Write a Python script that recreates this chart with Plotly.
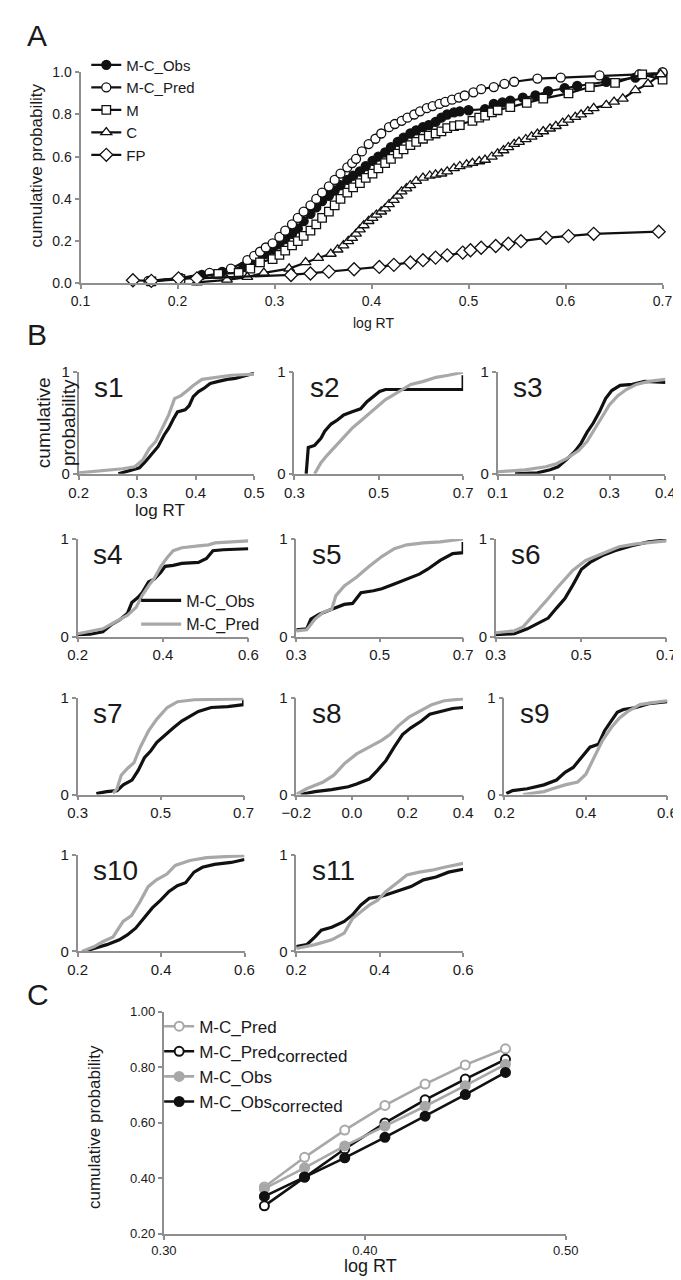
import plotly.graph_objects as go

FONT = "Liberation Sans, Arial, sans-serif"
W, H = 681, 1280
AXC = "#8f8f8f"
BLK = "#111111"
GRY = "#a8a8a8"

# ---------------- Panel A data ----------------
A_OBS_X = [0.173,0.203,0.225,0.246,0.268,0.277,0.285,0.291,0.298,0.305,0.311,0.318,0.324,0.330,0.337,0.343,0.349,0.356,0.362,0.368,0.375,0.381,0.388,0.394,0.401,0.407,0.414,0.420,0.427,0.433,0.440,0.446,0.453,0.459,0.466,0.472,0.478,0.485,0.491,0.500,0.517,0.526,0.535,0.543,0.556,0.569,0.582,0.599,0.612,0.642,0.672,0.700]
A_OBS_Y = [0.01,0.025,0.04,0.055,0.08,0.10,0.12,0.14,0.16,0.185,0.21,0.235,0.26,0.295,0.33,0.36,0.39,0.415,0.44,0.465,0.49,0.51,0.53,0.555,0.58,0.60,0.62,0.645,0.67,0.69,0.71,0.725,0.74,0.75,0.765,0.785,0.80,0.81,0.815,0.82,0.825,0.85,0.857,0.865,0.88,0.89,0.91,0.925,0.935,0.955,0.975,0.995]

A_PRED_X = [0.170,0.203,0.233,0.255,0.272,0.279,0.285,0.291,0.298,0.305,0.311,0.318,0.324,0.330,0.337,0.343,0.349,0.356,0.362,0.368,0.375,0.380,0.384,0.390,0.397,0.404,0.410,0.418,0.424,0.431,0.437,0.444,0.450,0.457,0.463,0.470,0.476,0.483,0.490,0.496,0.505,0.513,0.526,0.537,0.547,0.571,0.595,0.635,0.676,0.700]
A_PRED_Y = [0.012,0.025,0.05,0.07,0.11,0.13,0.15,0.17,0.19,0.22,0.25,0.28,0.31,0.34,0.37,0.40,0.43,0.46,0.49,0.52,0.55,0.57,0.59,0.625,0.66,0.685,0.71,0.74,0.755,0.77,0.785,0.80,0.815,0.83,0.84,0.85,0.86,0.87,0.88,0.89,0.905,0.92,0.93,0.945,0.955,0.97,0.975,0.985,0.99,1.0]

A_M_X = [0.173,0.203,0.242,0.263,0.275,0.285,0.298,0.305,0.311,0.318,0.324,0.330,0.337,0.343,0.349,0.356,0.362,0.368,0.375,0.381,0.388,0.394,0.401,0.407,0.414,0.420,0.427,0.433,0.440,0.446,0.453,0.459,0.466,0.472,0.478,0.485,0.491,0.504,0.511,0.517,0.524,0.530,0.543,0.560,0.577,0.603,0.625,0.651,0.679,0.700]
A_M_Y = [0.01,0.02,0.045,0.05,0.07,0.10,0.115,0.135,0.155,0.18,0.20,0.225,0.25,0.28,0.31,0.34,0.37,0.40,0.43,0.455,0.475,0.50,0.52,0.545,0.57,0.59,0.615,0.635,0.655,0.67,0.685,0.70,0.71,0.72,0.735,0.745,0.75,0.77,0.785,0.795,0.81,0.82,0.835,0.855,0.875,0.90,0.93,0.95,0.99,0.965]

A_C_X = [0.220,0.251,0.272,0.289,0.315,0.332,0.345,0.358,0.365,0.371,0.376,0.380,0.384,0.388,0.392,0.397,0.401,0.405,0.410,0.414,0.418,0.423,0.427,0.431,0.436,0.440,0.446,0.453,0.460,0.466,0.472,0.478,0.485,0.491,0.498,0.504,0.511,0.517,0.524,0.530,0.536,0.541,0.547,0.552,0.559,0.565,0.571,0.577,0.584,0.590,0.597,0.603,0.610,0.616,0.623,0.629,0.642,0.650,0.659,0.672,0.685,0.698]
A_C_Y = [0.005,0.017,0.03,0.05,0.07,0.10,0.12,0.14,0.16,0.18,0.20,0.215,0.235,0.255,0.275,0.295,0.31,0.325,0.34,0.355,0.375,0.395,0.415,0.435,0.45,0.465,0.485,0.50,0.51,0.515,0.52,0.53,0.545,0.555,0.563,0.57,0.578,0.585,0.60,0.615,0.63,0.645,0.66,0.67,0.683,0.695,0.708,0.72,0.733,0.745,0.76,0.775,0.788,0.80,0.815,0.83,0.845,0.86,0.875,0.915,0.945,0.99]

A_FP_X = [0.154,0.173,0.201,0.220,0.317,0.337,0.356,0.382,0.408,0.423,0.440,0.453,0.466,0.478,0.494,0.502,0.513,0.528,0.541,0.554,0.580,0.603,0.629,0.696]
A_FP_Y = [0.015,0.012,0.024,0.024,0.04,0.047,0.056,0.067,0.078,0.088,0.099,0.11,0.122,0.133,0.146,0.157,0.169,0.177,0.188,0.20,0.216,0.224,0.235,0.245]

# ---------------- Panel B data (per subject: observed / predicted) ----------------
S1_OBS_X = [0.268,0.286,0.304,0.314,0.325,0.336,0.346,0.354,0.362,0.369,0.382,0.389,0.396,0.405,0.414,0.425,0.439,0.454,0.468,0.482,0.500]
S1_OBS_Y = [0.00,0.03,0.06,0.12,0.20,0.27,0.38,0.45,0.54,0.61,0.63,0.67,0.76,0.81,0.84,0.89,0.91,0.93,0.94,0.96,0.99]
S1_PRED_X = [0.200,0.246,0.275,0.296,0.310,0.321,0.332,0.343,0.354,0.364,0.375,0.386,0.396,0.411,0.432,0.461,0.500]
S1_PRED_Y = [0.01,0.03,0.05,0.07,0.14,0.25,0.32,0.45,0.58,0.74,0.77,0.82,0.87,0.93,0.95,0.97,0.98]

S2_OBS_X = [0.328,0.333,0.348,0.363,0.372,0.387,0.402,0.417,0.437,0.457,0.472,0.487,0.502,0.516,0.700,0.700]
S2_OBS_Y = [0.00,0.26,0.28,0.35,0.42,0.49,0.53,0.58,0.61,0.64,0.71,0.76,0.81,0.83,0.83,0.97]
S2_PRED_X = [0.348,0.363,0.377,0.392,0.407,0.422,0.437,0.457,0.477,0.497,0.516,0.536,0.556,0.576,0.606,0.636,0.665,0.700]
S2_PRED_Y = [0.00,0.11,0.18,0.25,0.32,0.38,0.45,0.52,0.59,0.66,0.73,0.78,0.83,0.88,0.91,0.95,0.97,1.00]

S3_OBS_X = [0.131,0.171,0.194,0.208,0.223,0.238,0.249,0.260,0.271,0.282,0.293,0.304,0.319,0.341,0.363,0.400]
S3_OBS_Y = [0.00,0.01,0.04,0.07,0.14,0.22,0.30,0.41,0.50,0.61,0.74,0.82,0.87,0.88,0.91,0.90]
S3_PRED_X = [0.100,0.149,0.186,0.205,0.223,0.245,0.260,0.274,0.289,0.300,0.315,0.330,0.348,0.370,0.400]
S3_PRED_Y = [0.02,0.04,0.07,0.10,0.15,0.23,0.32,0.45,0.58,0.68,0.77,0.83,0.88,0.91,0.93]

S4_OBS_X = [0.200,0.229,0.259,0.278,0.298,0.317,0.327,0.341,0.351,0.366,0.380,0.395,0.405,0.424,0.444,0.483,0.502,0.517,0.541,0.600]
S4_OBS_Y = [0.02,0.025,0.05,0.12,0.17,0.24,0.35,0.40,0.45,0.56,0.59,0.66,0.72,0.73,0.75,0.76,0.80,0.88,0.89,0.90]
S4_PRED_X = [0.200,0.259,0.288,0.317,0.337,0.351,0.366,0.380,0.395,0.410,0.424,0.444,0.483,0.507,0.522,0.561,0.600]
S4_PRED_Y = [0.03,0.08,0.15,0.22,0.30,0.42,0.52,0.60,0.72,0.81,0.88,0.91,0.93,0.94,0.96,0.97,0.98]

S5_OBS_X = [0.300,0.325,0.335,0.355,0.385,0.415,0.435,0.455,0.485,0.505,0.535,0.565,0.595,0.615,0.645,0.675,0.700,0.700]
S5_OBS_Y = [0.07,0.08,0.18,0.23,0.28,0.33,0.34,0.45,0.47,0.49,0.54,0.59,0.64,0.69,0.78,0.85,0.86,0.97]
S5_PRED_X = [0.300,0.325,0.345,0.365,0.385,0.395,0.415,0.445,0.475,0.505,0.535,0.565,0.605,0.645,0.700]
S5_PRED_Y = [0.06,0.07,0.18,0.25,0.28,0.42,0.52,0.61,0.72,0.82,0.90,0.94,0.96,0.97,1.00]

S6_OBS_X = [0.300,0.344,0.374,0.403,0.423,0.442,0.462,0.481,0.501,0.521,0.550,0.579,0.619,0.658,0.700]
S6_OBS_Y = [0.02,0.03,0.08,0.14,0.19,0.29,0.39,0.53,0.69,0.76,0.83,0.88,0.93,0.97,0.99]
S6_PRED_X = [0.300,0.344,0.364,0.383,0.403,0.423,0.442,0.462,0.481,0.511,0.550,0.589,0.629,0.700]
S6_PRED_Y = [0.04,0.06,0.10,0.19,0.29,0.39,0.49,0.59,0.68,0.78,0.85,0.92,0.95,0.98]

S7_OBS_X = [0.345,0.370,0.395,0.410,0.431,0.446,0.461,0.476,0.491,0.511,0.531,0.551,0.571,0.591,0.622,0.662,0.700,0.700]
S7_OBS_Y = [0.01,0.03,0.04,0.10,0.15,0.25,0.38,0.45,0.54,0.62,0.69,0.76,0.81,0.86,0.90,0.91,0.93,0.98]
S7_PRED_X = [0.385,0.395,0.405,0.420,0.436,0.451,0.471,0.491,0.516,0.541,0.581,0.700]
S7_PRED_Y = [0.01,0.06,0.20,0.27,0.33,0.49,0.66,0.78,0.90,0.96,0.98,0.99]

S8_OBS_X = [-0.185,-0.133,-0.073,-0.013,0.017,0.062,0.092,0.122,0.152,0.182,0.212,0.250,0.280,0.317,0.362,0.400]
S8_OBS_Y = [0.00,0.03,0.05,0.08,0.11,0.16,0.25,0.35,0.49,0.62,0.69,0.76,0.83,0.86,0.89,0.90]
S8_PRED_X = [-0.200,-0.163,-0.103,-0.065,-0.027,0.017,0.062,0.107,0.137,0.167,0.205,0.242,0.287,0.332,0.400]
S8_PRED_Y = [0.00,0.06,0.13,0.20,0.32,0.42,0.49,0.56,0.62,0.71,0.80,0.86,0.93,0.97,0.99]

S9_OBS_X = [0.205,0.220,0.256,0.297,0.328,0.349,0.369,0.390,0.410,0.431,0.446,0.462,0.477,0.492,0.523,0.554,0.600]
S9_OBS_Y = [0.01,0.04,0.06,0.10,0.15,0.23,0.28,0.39,0.49,0.52,0.66,0.76,0.85,0.88,0.90,0.94,0.96]
S9_PRED_X = [0.246,0.297,0.318,0.349,0.380,0.400,0.421,0.441,0.462,0.482,0.503,0.533,0.564,0.600]
S9_PRED_Y = [0.00,0.03,0.06,0.10,0.13,0.21,0.39,0.56,0.69,0.79,0.86,0.93,0.95,0.97]

S10_OBS_X = [0.215,0.240,0.270,0.300,0.319,0.339,0.359,0.379,0.399,0.419,0.439,0.459,0.479,0.499,0.528,0.568,0.600]
S10_OBS_Y = [0.00,0.03,0.07,0.12,0.17,0.24,0.34,0.45,0.53,0.62,0.68,0.71,0.82,0.87,0.90,0.92,0.95]
S10_PRED_X = [0.210,0.240,0.260,0.285,0.309,0.329,0.349,0.369,0.389,0.414,0.434,0.469,0.509,0.600]
S10_PRED_Y = [0.00,0.05,0.10,0.15,0.31,0.37,0.51,0.67,0.74,0.80,0.89,0.94,0.97,0.99]

S11_OBS_X = [0.200,0.225,0.245,0.260,0.285,0.315,0.335,0.355,0.375,0.405,0.425,0.445,0.475,0.505,0.535,0.565,0.600]
S11_OBS_Y = [0.05,0.07,0.15,0.22,0.25,0.31,0.38,0.48,0.55,0.57,0.60,0.63,0.67,0.74,0.77,0.82,0.85]
S11_PRED_X = [0.200,0.245,0.285,0.315,0.335,0.355,0.375,0.395,0.415,0.445,0.465,0.495,0.525,0.555,0.600]
S11_PRED_Y = [0.03,0.07,0.12,0.19,0.34,0.41,0.48,0.53,0.62,0.72,0.79,0.82,0.84,0.87,0.91]

SUBJECTS = ["s1","s2","s3","s4","s5","s6","s7","s8","s9","s10","s11"]
OBS_X = [S1_OBS_X,S2_OBS_X,S3_OBS_X,S4_OBS_X,S5_OBS_X,S6_OBS_X,S7_OBS_X,S8_OBS_X,S9_OBS_X,S10_OBS_X,S11_OBS_X]
OBS_Y = [S1_OBS_Y,S2_OBS_Y,S3_OBS_Y,S4_OBS_Y,S5_OBS_Y,S6_OBS_Y,S7_OBS_Y,S8_OBS_Y,S9_OBS_Y,S10_OBS_Y,S11_OBS_Y]
PRED_X = [S1_PRED_X,S2_PRED_X,S3_PRED_X,S4_PRED_X,S5_PRED_X,S6_PRED_X,S7_PRED_X,S8_PRED_X,S9_PRED_X,S10_PRED_X,S11_PRED_X]
PRED_Y = [S1_PRED_Y,S2_PRED_Y,S3_PRED_Y,S4_PRED_Y,S5_PRED_Y,S6_PRED_Y,S7_PRED_Y,S8_PRED_Y,S9_PRED_Y,S10_PRED_Y,S11_PRED_Y]
X_RANGES = [(0.2,0.5),(0.3,0.7),(0.1,0.4),(0.2,0.6),(0.3,0.7),(0.3,0.7),(0.3,0.7),(-0.2,0.4),(0.2,0.6),(0.2,0.6),(0.2,0.6)]
X_DTICKS = [0.1,0.2,0.1,0.2,0.2,0.2,0.2,0.2,0.2,0.2,0.2]

# ---------------- Panel C data ----------------
C_X = [0.35,0.37,0.39,0.41,0.43,0.45,0.47]
C_PRED = [0.368,0.475,0.573,0.662,0.739,0.808,0.866]
C_PRED_CORR = [0.300,0.404,0.505,0.599,0.682,0.757,0.828]
C_OBS = [0.362,0.437,0.516,0.587,0.659,0.733,0.810]
C_OBS_CORR = [0.334,0.404,0.473,0.547,0.623,0.701,0.781]

# ---------------- layout geometry (pixels) ----------------
A_BOX = (60, 667, 56, 270)  # left, right, top, bottom
B_BOXES = [
    (58, 241, 360, 463), (283, 459, 360, 463), (495, 670, 360, 463),
    (57, 235, 529, 628), (285, 459, 529, 628), (493, 671, 529, 628),
    (57, 230, 690, 788), (285, 459, 690, 788), (502, 672, 690, 788),
    (57, 231, 849, 947), (285, 459, 849, 947),
]
C_BOX = (147, 566, 1008, 1233)


def xdom(b):
    return [b[0] / W, b[1] / W]


def ydom(b):
    return [1 - b[3] / H, 1 - b[2] / H]


fig = go.Figure()

# Panel A traces
a_series = [
    ("M-C_Obs", A_OBS_X, A_OBS_Y, "circle", BLK, 9),
    ("M-C_Pred", A_PRED_X, A_PRED_Y, "circle", "white", 9),
    ("M", A_M_X, A_M_Y, "square", "white", 8.5),
    ("C", A_C_X, A_C_Y, "triangle-up", "white", 9.5),
    ("FP", A_FP_X, A_FP_Y, "diamond", "white", 10),
]
for name, xs, ys, sym, fill, sz in a_series:
    fig.add_trace(go.Scatter(
        x=xs, y=ys, name=name, mode="lines+markers",
        line=dict(color=BLK, width=2.2),
        marker=dict(symbol=sym, size=sz, color=fill, line=dict(color=BLK, width=1.3)),
        xaxis="x", yaxis="y", legend="legend", cliponaxis=False,
    ))

# Panel B traces
for i in range(11):
    ax = i + 2
    fig.add_trace(go.Scatter(
        x=OBS_X[i], y=OBS_Y[i], name="M-C_Obs", mode="lines",
        line=dict(color=BLK, width=3.2), xaxis=f"x{ax}", yaxis=f"y{ax}",
        legend="legend2", showlegend=(i == 3),
    ))
    fig.add_trace(go.Scatter(
        x=PRED_X[i], y=PRED_Y[i], name="M-C_Pred", mode="lines",
        line=dict(color=GRY, width=3.2), xaxis=f"x{ax}", yaxis=f"y{ax}",
        legend="legend2", showlegend=(i == 3),
    ))

# Panel C traces
SUBSTYLE = '<sub><span style="font-size:17px">corrected</span></sub>'
c_series = [
    ("M-C_Pred", C_PRED, GRY, "white"),
    ("M-C_Pred" + SUBSTYLE, C_PRED_CORR, BLK, "white"),
    ("M-C_Obs", C_OBS, GRY, GRY),
    ("M-C_Obs" + SUBSTYLE, C_OBS_CORR, BLK, BLK),
]
for name, ys, col, fill in c_series:
    fig.add_trace(go.Scatter(
        x=C_X, y=ys, name=name, mode="lines+markers",
        line=dict(color=col, width=2.6),
        marker=dict(symbol="circle", size=9, color=fill, line=dict(color=col, width=2)),
        xaxis="x13", yaxis="y13", legend="legend3", cliponaxis=False,
    ))

axis_common = dict(showline=True, linecolor=AXC, linewidth=2, ticks="outside",
                   tickcolor=AXC, tickwidth=1.5, ticklen=4, showgrid=False,
                   zeroline=False, tickfont=dict(family=FONT, color="#1a1a1a"))

layout = dict(
    width=W, height=H, autosize=False,
    margin=dict(l=0, r=0, t=0, b=0),
    paper_bgcolor="white", plot_bgcolor="white",
    font=dict(family=FONT, color="#1a1a1a"),
)

layout["xaxis"] = dict(axis_common, domain=xdom(A_BOX), range=[0.1, 0.7], dtick=0.1,
                       tick0=0.1, tickformat=".1f", anchor="y",
                       tickfont=dict(family=FONT, size=14, color="#1a1a1a"))
layout["yaxis"] = dict(axis_common, domain=ydom(A_BOX), range=[0, 1], dtick=0.2,
                       tickformat=".1f", anchor="x",
                       tickfont=dict(family=FONT, size=14, color="#1a1a1a"))

for i in range(11):
    ax = i + 2
    b = B_BOXES[i]
    r0, r1 = X_RANGES[i]
    layout[f"xaxis{ax}"] = dict(axis_common, domain=xdom(b), range=[r0, r1],
                                dtick=X_DTICKS[i], tick0=r0, tickformat=".1f",
                                anchor=f"y{ax}", linewidth=1.5,
                                tickfont=dict(family=FONT, size=15, color="#1a1a1a"))
    layout[f"yaxis{ax}"] = dict(axis_common, domain=ydom(b), range=[0, 1],
                                tickvals=[0, 1], ticktext=["0", "1"],
                                anchor=f"x{ax}", linewidth=1.5,
                                tickfont=dict(family=FONT, size=15, color="#1a1a1a"))

layout["xaxis13"] = dict(axis_common, domain=xdom(C_BOX), range=[0.3, 0.5], dtick=0.1,
                         tick0=0.3, tickformat=".2f", anchor="y13",
                         tickfont=dict(family=FONT, size=13, color="#1a1a1a"))
layout["yaxis13"] = dict(axis_common, domain=ydom(C_BOX), range=[0.2, 1.0], dtick=0.2,
                         tick0=0.2, tickformat=".2f", anchor="x13",
                         tickfont=dict(family=FONT, size=13, color="#1a1a1a"))

layout["legend"] = dict(x=66 / W, y=1 - 32 / H, xanchor="left", yanchor="top",
                        bgcolor="rgba(0,0,0,0)", font=dict(family=FONT, size=15, color="#1a1a1a"),
                        itemwidth=30, tracegroupgap=0)
layout["legend2"] = dict(x=118 / W, y=1 - 574 / H, xanchor="left", yanchor="top",
                         bgcolor="rgba(0,0,0,0)", font=dict(family=FONT, size=16, color="#1a1a1a"),
                         itemwidth=40, tracegroupgap=0)
layout["legend3"] = dict(x=142 / W, y=1 - 1005 / H, xanchor="left", yanchor="top",
                         bgcolor="rgba(0,0,0,0)", font=dict(family=FONT, size=17, color="#1a1a1a"),
                         itemwidth=30, tracegroupgap=0)

ann = []


def add_text(txt, px, py, size, xanchor="left", yanchor="top", angle=0):
    ann.append(dict(text=txt, x=px / W, y=1 - py / H, xref="paper", yref="paper",
                    showarrow=False, xanchor=xanchor, yanchor=yanchor, textangle=angle,
                    font=dict(family=FONT, size=size, color="#1a1a1a")))


add_text("A", 2, 0, 30)
add_text("B", 2, 303, 30)
add_text("C", 2, 972, 30)

# axis titles
add_text("log RT", 366, 310, 14, "center", "middle")
add_text("cumulative probability", 14, 150, 17, "center", "middle", -90)
add_text("log RT", 143, 500, 17, "center", "middle")
add_text("cumulative<br>probability", 34, 411, 19, "center", "middle", -90)
add_text("log RT", 362, 1266, 18, "center", "middle")
add_text("cumulative probability", 74, 1125, 17, "center", "middle", -90)

for i, s in enumerate(SUBJECTS):
    b = B_BOXES[i]
    add_text(s, b[0] + 14, b[2] - 2, 28)

layout["annotations"] = ann
fig.update_layout(**layout)

fig.write_html("out.html")
